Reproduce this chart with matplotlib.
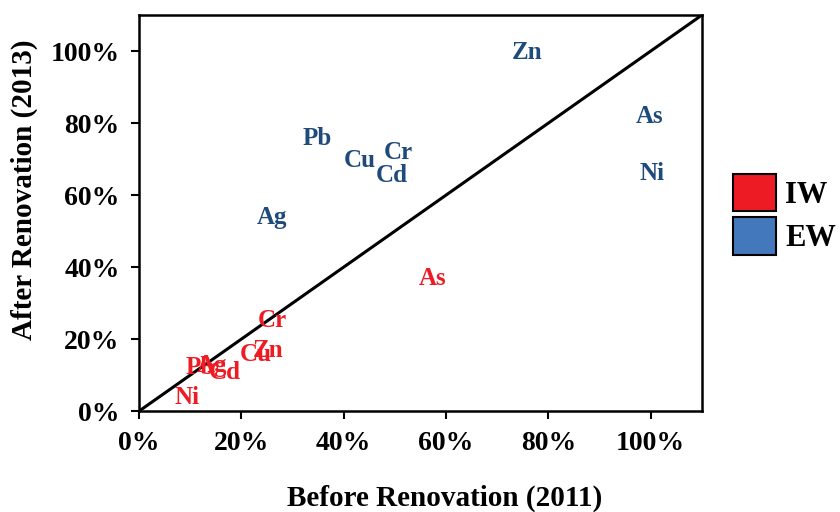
import matplotlib.pyplot as plt
from matplotlib.patches import Patch
from matplotlib.ticker import PercentFormatter

plt.rcParams['font.family'] = ['Liberation Serif', 'DejaVu Serif']
plt.rcParams['font.weight'] = 'bold'

# element labels and percentages (before 2011, after 2013)
iw_names  = ["As", "Cr", "Zn", "Cu", "Pb", "Ag", "Cd", "Ni"]
iw_before = [57.4, 26.0, 25.2, 22.9, 11.9, 14.3, 16.8, 9.4]
iw_after  = [36.8, 25.3, 16.8, 15.8, 12.0, 12.8, 10.6, 3.9]

ew_names  = ["Zn", "As", "Ni", "Pb", "Cu", "Cr", "Cd", "Ag"]
ew_before = [75.8, 99.8, 100.2, 34.8, 43.2, 50.6, 49.4, 26.0]
ew_after  = [99.7, 81.9, 66.0, 75.8, 69.6, 71.9, 65.5, 53.8]

IW_TEXT = "#ED1C24"
EW_TEXT = "#1F4A7C"
IW_BOX = "#ED1C24"
EW_BOX = "#4478BD"

fig = plt.figure(figsize=(8.4, 5.12), dpi=100)
ax = fig.add_axes([0.1655, 0.197, 0.6702, 0.7737])

ax.plot([0, 110], [0, 110], color="black", lw=2.2)

for n, x, y in zip(iw_names, iw_before, iw_after):
    ax.text(x, y, n, color=IW_TEXT, fontsize=18, fontweight="bold", ha="center", va="center")
for n, x, y in zip(ew_names, ew_before, ew_after):
    ax.text(x, y, n, color=EW_TEXT, fontsize=18, fontweight="bold", ha="center", va="center")

ax.set_xlim(0, 110)
ax.set_ylim(0, 110)
ax.set_xticks([0, 20, 40, 60, 80, 100])
ax.set_yticks([0, 20, 40, 60, 80, 100])
ax.xaxis.set_major_formatter(PercentFormatter(decimals=0))
ax.yaxis.set_major_formatter(PercentFormatter(decimals=0))
ax.tick_params(direction="out", length=6, width=1.5, labelsize=20, pad=8)
for lab in ax.get_xticklabels() + ax.get_yticklabels():
    lab.set_fontweight("bold")
for s in ax.spines.values():
    s.set_linewidth(1.8)

ax.set_xlabel("Before Renovation (2011)", fontsize=21, fontweight="bold")
ax.set_ylabel("After Renovation (2013)", fontsize=21, fontweight="bold")
ax.xaxis.set_label_coords(0.542, -0.185)
ax.yaxis.set_label_coords(-0.18, 0.56)

handles = [Patch(facecolor=IW_BOX, edgecolor="black", lw=1.5, label="IW"),
           Patch(facecolor=EW_BOX, edgecolor="black", lw=1.5, label="EW")]
fig.legend(handles=handles, loc="upper left", bbox_to_anchor=(0.873, 0.66),
           frameon=False, handlelength=1.4, handleheight=1.5, borderaxespad=0,
           handletextpad=0.3, labelspacing=0.2, borderpad=0, prop={"weight": "bold", "size": 22})

fig.savefig("out.png", dpi=100)
